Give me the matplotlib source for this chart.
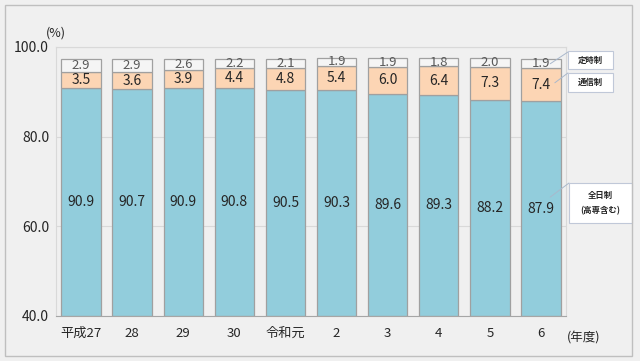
import matplotlib.pyplot as plt
from matplotlib.patches import Rectangle

plt.rcParams['font.family'] = ['Noto Sans CJK JP', 'DejaVu Sans']

# 年度ラベルと各課程の割合 (%)
years = ['平成27', '28', '29', '30', '令和元', '2', '3', '4', '5', '6']
zennichi = [90.9, 90.7, 90.9, 90.8, 90.5, 90.3, 89.6, 89.3, 88.2, 87.9]
tsushin = [3.5, 3.6, 3.9, 4.4, 4.8, 5.4, 6.0, 6.4, 7.3, 7.4]
teiji = [2.9, 2.9, 2.6, 2.2, 2.1, 1.9, 1.9, 1.8, 2.0, 1.9]

bg = '#f0f0f0'
fig = plt.figure(figsize=(6.4, 3.61), dpi=100, facecolor=bg)
ax = fig.add_axes([0.0875, 0.125, 0.797, 0.745])
ax.set_facecolor(bg)

x = range(len(years))
w = 0.77
edge = '#a0a0a0'
ax.bar(x, [v - 40 for v in zennichi], w, bottom=40, color='#92cddc', edgecolor=edge, linewidth=0.9)
ax.bar(x, tsushin, w, bottom=zennichi, color='#fcd5b4', edgecolor=edge, linewidth=0.9)
top_bottom = [a + b for a, b in zip(zennichi, tsushin)]
ax.bar(x, teiji, w, bottom=top_bottom, color='#f5f5f5', edgecolor=edge, linewidth=0.9)

for i in x:
    ax.text(i, (40 + zennichi[i]) / 2, f'{zennichi[i]:.1f}', ha='center', va='center', fontsize=10, color='#262626')
    ax.text(i, zennichi[i] + tsushin[i] / 2, f'{tsushin[i]:.1f}', ha='center', va='center', fontsize=10, color='#262626')
    ax.text(i, top_bottom[i] + teiji[i] / 2, f'{teiji[i]:.1f}', ha='center', va='center', fontsize=9.5, color='#595959')

ax.set_xlim(-0.49, 9.49)
ax.set_ylim(40, 100)
ax.set_yticks([40, 60, 80, 100])
ax.set_yticklabels(['40.0', '60.0', '80.0', '100.0'], fontsize=10, color='#262626')
ax.set_xticks(list(x))
ax.set_xticklabels(years, fontsize=9.5, color='#262626')
ax.tick_params(length=0, pad=8)
ax.tick_params(axis='y', pad=5)
ax.yaxis.grid(True, color='#d9d9d9', linewidth=0.8)
ax.set_axisbelow(True)
for s in ['top', 'right', 'left']:
    ax.spines[s].set_color('#d9d9d9')
    ax.spines[s].set_linewidth(0.8)
ax.spines['bottom'].set_color('#a6a6a6')

fig.text(0.087, 0.9, '(%)', fontsize=9, color='#262626', ha='center')
fig.text(0.912, 0.055, '(年度)', fontsize=9, color='#262626', ha='center')

# 凡例の枠 (figure fraction)
line = dict(arrowstyle='-', color='#a9b8cc', lw=0.7, shrinkA=0, shrinkB=0)
legend = [
    ('定時制', (0.8875, 0.809, 0.0703, 0.05), (9.18, top_bottom[9] + teiji[9] / 2), (0.8875, 0.856)),
    ('通信制', (0.8875, 0.745, 0.0703, 0.0526), (9.27, 92.0), (0.8875, 0.798)),
    ('全日制\n(高専含む)', (0.889, 0.382, 0.0984, 0.111), (9.18, 66.5), (0.889, 0.493)),
]
for label, (bx, by, bw, bh), src, dst in legend:
    fig.patches.append(Rectangle((bx, by), bw, bh, transform=fig.transFigure,
                                 fc='white', ec='#c0c8d8', lw=0.8))
    fig.text(bx + bw / 2, by + bh / 2, label, fontsize=6, fontweight='bold', color='#262626',
             ha='center', va='center', linespacing=2.0)
    ax.annotate('', xy=src, xycoords='data', xytext=dst, textcoords='figure fraction',
                arrowprops=line, annotation_clip=False)

fig.patches.append(Rectangle((0.008, 0.014), 0.98, 0.972, transform=fig.transFigure,
                             fill=False, ec='#bfbfbf', lw=1.0))

fig.savefig('out.png', dpi=100, facecolor=bg)
